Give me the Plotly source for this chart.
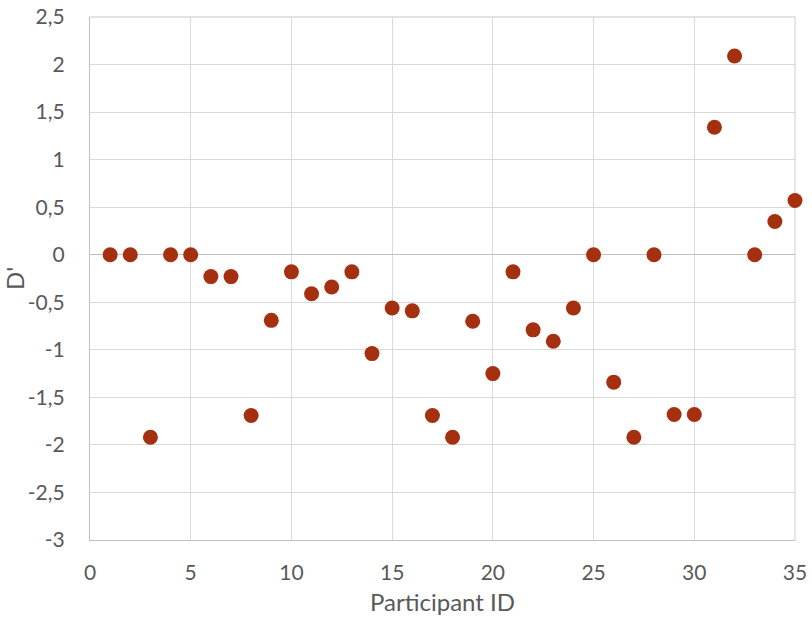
import plotly.graph_objects as go

participant_ids = list(range(1, 36))
d_prime = [0, 0, -1.92, 0, 0, -0.23, -0.23, -1.69, -0.69, -0.18,
           -0.41, -0.34, -0.18, -1.04, -0.56, -0.59, -1.69, -1.92, -0.70, -1.25,
           -0.18, -0.79, -0.91, -0.56, 0, -1.34, -1.92, 0, -1.68, -1.68,
           1.34, 2.09, 0, 0.35, 0.57]

x_ticks = [0, 5, 10, 15, 20, 25, 30, 35]
y_ticks = [-3, -2.5, -2, -1.5, -1, -0.5, 0, 0.5, 1, 1.5, 2, 2.5]
y_tick_labels = ["-3", "-2,5", "-2", "-1,5", "-1", "-0,5", "0", "0,5", "1", "1,5", "2", "2,5"]

font_family = "Lato, 'Noto Sans', sans-serif"
grey = "#595959"
grid = "#D9D9D9"

fig = go.Figure()
fig.add_trace(go.Scatter(
    x=participant_ids, y=d_prime, mode="markers",
    marker=dict(size=15, color="#A5300F"),
    cliponaxis=False, showlegend=False,
))

fig.update_layout(
    width=812, height=627,
    margin=dict(l=90, r=17, t=17, b=87),
    paper_bgcolor="white", plot_bgcolor="white",
    font=dict(family=font_family, color=grey, size=21),
    shapes=[
        dict(type="line", xref="paper", yref="paper", x0=0, x1=1, y0=1, y1=1,
             line=dict(color=grid, width=1.3), layer="below"),
        dict(type="line", xref="paper", yref="paper", x0=1, x1=1, y0=0, y1=1,
             line=dict(color=grid, width=1.3), layer="below"),
    ],
)
fig.update_xaxes(
    range=[0, 35], tickvals=x_ticks, ticktext=[str(v) for v in x_ticks],
    automargin=False, ticklabeloverflow="allow",
    showgrid=True, gridcolor=grid, gridwidth=1.3,
    zeroline=False, showline=True, linecolor="#BFBFBF", linewidth=1.3,
    ticks="outside", ticklen=14, tickcolor="rgba(0,0,0,0)",
    tickfont=dict(size=21, color=grey),
    title=dict(text="Participant ID", font=dict(size=24, color=grey), standoff=10),
)
fig.update_yaxes(
    range=[-3, 2.5], tickvals=y_ticks, ticktext=y_tick_labels,
    automargin=False, ticklabeloverflow="allow",
    showgrid=True, gridcolor=grid, gridwidth=1.3,
    zeroline=True, zerolinecolor="#BFBFBF", zerolinewidth=1.3,
    showline=True, linecolor="#BFBFBF", linewidth=1.3,
    ticks="outside", ticklen=20, tickcolor="rgba(0,0,0,0)",
    tickfont=dict(size=21, color=grey),
    title=dict(text="D'", font=dict(size=24, color=grey), standoff=2),
)

fig.write_html("out.html",
               config={"displayModeBar": False},
               post_script="document.body.style.margin='0';document.body.style.overflow='hidden';")
